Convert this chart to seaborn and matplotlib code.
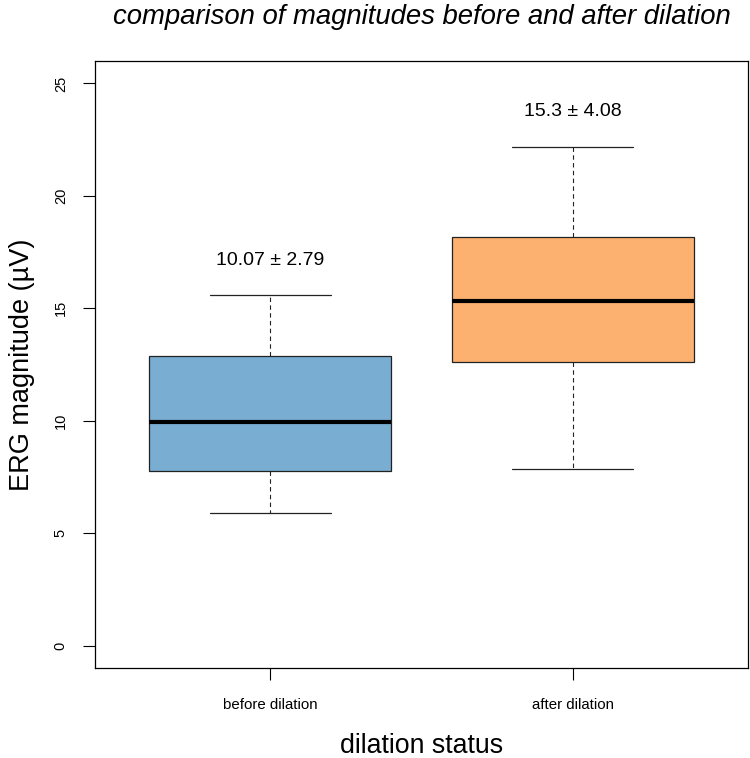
import matplotlib
matplotlib.use("Agg")
import matplotlib.pyplot as plt
import seaborn as sns
import pandas as pd

# five-number summaries (whisker low, Q1, median, Q3, whisker high)
categories = ["before dilation", "after dilation"]
before_vals = [5.88, 7.76, 9.93, 12.88, 15.58]
after_vals = [7.85, 12.60, 15.32, 18.19, 22.19]
labels_text = ["10.07 \u00b1 2.79", "15.3 \u00b1 4.08"]
box_colors = ["#7AADD2", "#FDB170"]
y_ticks = [0, 5, 10, 15, 20, 25]

df = pd.DataFrame({
    "status": [categories[0]] * len(before_vals) + [categories[1]] * len(after_vals),
    "value": before_vals + after_vals,
})

sns.set_style("white")
plt.rcParams["font.family"] = ["Liberation Sans", "DejaVu Sans"]
plt.rcParams["text.color"] = "black"
plt.rcParams["xtick.color"] = "black"
plt.rcParams["ytick.color"] = "black"

fig = plt.figure(figsize=(7.5, 7.58), dpi=100)
ax = fig.add_axes([95 / 750, 1 - 668 / 758, 653 / 750, 607 / 758])

sns.boxplot(
    data=df, x="status", y="value", hue="status", order=categories,
    hue_order=categories, palette=box_colors, width=0.8, whis=1.5,
    linewidth=0.9, linecolor="#222222", legend=False, ax=ax,
    whiskerprops=dict(linestyle=(0, (4, 3)), color="#222222", linewidth=0.8),
    capprops=dict(color="#222222", linewidth=0.9),
    medianprops=dict(color="black", linewidth=3.0),
    boxprops=dict(edgecolor="#222222", linewidth=0.9),
    showfliers=False, saturation=1,
)

ax.set_xlim(-0.58, 1.58)
ax.set_ylim(-1, 26)
ax.set_yticks(y_ticks)
ax.set_yticklabels([str(t) for t in y_ticks], rotation=90, va="center", fontsize=10.5)
ax.set_xticks([0, 1])
ax.set_xticklabels(categories, fontsize=10.8)
ax.tick_params(axis="both", direction="out", length=8.6, width=0.8, color="black",
               bottom=True, left=True, labelcolor="black")
ax.tick_params(axis="x", pad=13)
ax.tick_params(axis="y", pad=11)
for s in ax.spines.values():
    s.set_visible(True)
    s.set_color("black")
    s.set_linewidth(0.9)
ax.set_xlabel("")
ax.set_ylabel("")

tops = [max(before_vals), max(after_vals)]
for i, (t, txt) in enumerate(zip(tops, labels_text)):
    ax.text(i, t + 1.55, txt, ha="center", va="center", fontsize=14, color="black")

fig.text(421.5 / 750, 1 - 17 / 758, "comparison of magnitudes before and after dilation",
         ha="center", va="center", fontsize=19.8, style="italic", color="black")
fig.text(421.5 / 750, 1 - 746 / 758, "dilation status", ha="center", va="center",
         fontsize=19.3, color="black")
fig.text(22 / 750, 1 - 364.5 / 758, "ERG magnitude (\u00b5V)", ha="center", va="center",
         rotation=90, fontsize=19.5, color="black")

fig.savefig("out.png", dpi=100)
